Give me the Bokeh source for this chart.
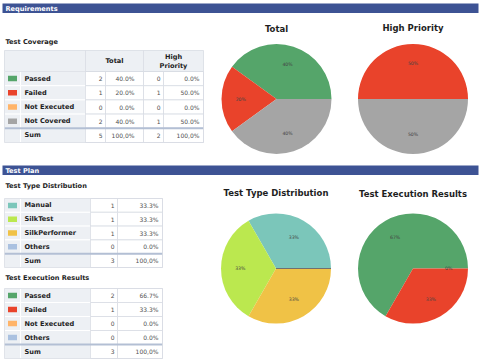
import numpy as np
from bokeh.plotting import figure
from bokeh.models import Range1d, ColumnDataSource
from bokeh.core.properties import value
from bokeh.embed import file_html
from bokeh.resources import INLINE

# ---------------- data ----------------
SECTION_TITLES = ["Requirements", "Test Plan"]
TABLE_TITLES = ["Test Coverage", "Test Type Distribution", "Test Execution Results"]
PIE_TITLES = ["Total", "High Priority", "Test Type Distribution", "Test Execution Results"]
HEADER_LABELS = ["Total", "High\nPriority"]
SUM_LABEL = "Sum"
SUM_PCT_LABEL = "100,0%"

COVERAGE_LABELS = ["Passed", "Failed", "Not Executed", "Not Covered"]
COVERAGE_COLORS = ["#55A56A", "#E9432B", "#FFB469", "#A5A5A5"]
COVERAGE_TOTAL = [2, 1, 0, 2]
COVERAGE_HIGH = [0, 1, 0, 1]

TYPE_LABELS = ["Manual", "SilkTest", "SilkPerformer", "Others"]
TYPE_COLORS = ["#7BC6BA", "#BBE84F", "#F0C246", "#AAC1E0"]
TYPE_VALUES = [1, 1, 1, 0]

EXEC_LABELS = ["Passed", "Failed", "Not Executed", "Others"]
EXEC_COLORS = ["#55A56A", "#E9432B", "#FFB469", "#AAC1E0"]
EXEC_VALUES = [2, 1, 0, 0]
EXEC_PIE_SLICES = 3  # Passed, Failed, Not Executed shown in the pie

# ---------------- styling ----------------
FONT = value("DejaVu Sans")
BAR_BLUE = "#3D5394"
CELL_GREY = "#EDF0F4"
GRID = "#D8DCE3"
TXT = "#1E1E1E"
NUM = "#505050"
W, H = 480, 362


def Y(v):
    return H - v


p = figure(width=W, height=H, x_range=Range1d(0, W), y_range=Range1d(0, H),
           output_backend="svg", toolbar_location=None, min_border=0,
           x_axis_location=None, y_axis_location=None)
p.grid.visible = False
p.outline_line_color = None
p.background_fill_color = "white"


def txt(xs, ys, texts, size, bold=False, color=TXT, align="left", baseline="middle"):
    src = ColumnDataSource(dict(x=list(xs), y=[Y(v) for v in ys], t=list(texts)))
    p.text(x="x", y="y", text="t", source=src, text_font=FONT, text_font_size=size,
           text_font_style="bold" if bold else "normal", text_color=color,
           text_align=align, text_baseline=baseline)


# section bars
bars_top = [3, 165]
p.quad(left=[2, 2], right=[478, 478], top=[Y(t) for t in bars_top],
       bottom=[Y(t + 9.5) for t in bars_top], fill_color=BAR_BLUE, line_color=None)
txt([5, 5], [t + 5 for t in bars_top], SECTION_TITLES, "6.6px", bold=True, color="white")

# table titles
txt([5, 5, 5], [41, 185, 277], TABLE_TITLES, "6.6px", bold=True)


def draw_table(edges, top, rh, labels, colors, groups, pct_pads):
    n = len(labels)
    rows = n + 1
    lq = dict(l=[], r=[], t=[], b=[])
    for i in range(rows):
        for a, b in [(edges[0], edges[1]), (edges[1], edges[2])]:
            lq["l"].append(a); lq["r"].append(b)
            lq["t"].append(Y(top + i * rh)); lq["b"].append(Y(top + (i + 1) * rh))
    p.quad(left="l", right="r", top="t", bottom="b", source=ColumnDataSource(lq),
           fill_color=CELL_GREY, line_color="white", line_width=1)
    nq = dict(l=[], r=[], t=[], b=[])
    for i in range(rows):
        for j in range(2, len(edges) - 1):
            nq["l"].append(edges[j]); nq["r"].append(edges[j + 1])
            nq["t"].append(Y(top + i * rh)); nq["b"].append(Y(top + (i + 1) * rh))
    p.quad(left="l", right="r", top="t", bottom="b", source=ColumnDataSource(nq),
           fill_color="white", line_color=GRID, line_width=0.8)
    cy = [top + (i + 0.5) * rh for i in range(n)]
    sx = (edges[0] + edges[1]) / 2
    p.rect(x=[sx] * n, y=[Y(c) for c in cy], width=9, height=5.5,
           fill_color=colors, line_color=None)
    txt([edges[1] + 4] * (n + 1), cy + [top + (n + 0.5) * rh], labels + [SUM_LABEL],
        "6.6px", bold=True)
    for g, vals in enumerate(groups):
        tot = sum(vals)
        ce = edges[3 + 2 * g]
        pe = edges[4 + 2 * g]
        counts = [str(v) for v in vals] + [str(tot)]
        pcts = ["%.1f%%" % (100.0 * v / tot) for v in vals] + [SUM_PCT_LABEL]
        ys = cy + [top + (n + 0.5) * rh]
        txt([ce - 3] * (n + 1), ys, counts, "6px", color=NUM, align="right")
        txt([pe - pct_pads[g]] * (n + 1), ys, pcts, "6px", color=NUM, align="right")
    p.segment(x0=[edges[0]], x1=[edges[-1]], y0=[Y(top + n * rh)], y1=[Y(top + n * rh)],
              line_color="#B3BFD4", line_width=2)
    p.quad(left=[edges[0]], right=[edges[-1]], top=[Y(top)], bottom=[Y(top + rows * rh)],
           fill_color=None, line_color=GRID, line_width=0.8)


# ---- table 1 (coverage) with header ----
E1 = [4, 20, 85, 105, 143, 163, 203]
HTOP, HBOT = 50, 71
p.quad(left=[E1[0]], right=[E1[-1]], top=[Y(HTOP)], bottom=[Y(HBOT)],
       fill_color=CELL_GREY, line_color=GRID, line_width=0.8)
p.segment(x0=[E1[2], E1[4]], x1=[E1[2], E1[4]], y0=[Y(HTOP)] * 2, y1=[Y(HBOT)] * 2,
          line_color=GRID, line_width=0.8)
txt([(E1[2] + E1[4]) / 2], [(HTOP + HBOT) / 2], [HEADER_LABELS[0]], "6.6px", bold=True,
    align="center")
hp = HEADER_LABELS[1].split("\n")
txt([(E1[4] + E1[6]) / 2] * 2, [56.5, 65], hp, "6.6px", bold=True, align="center")
draw_table(E1, HBOT, 14.2, COVERAGE_LABELS, COVERAGE_COLORS,
           [COVERAGE_TOTAL, COVERAGE_HIGH], [9, 4])

# ---- table 2 (type distribution) ----
E2 = [4, 20, 90, 117, 162]
draw_table(E2, 198, 13.8, TYPE_LABELS, TYPE_COLORS, [TYPE_VALUES], [4])

# ---- table 3 (execution results) ----
draw_table(E2, 288, 14.0, EXEC_LABELS, EXEC_COLORS, [EXEC_VALUES], [4])


# ---------------- pies ----------------
def draw_pie(cx, cy, r, vals, colors, title, title_y, label_zero=False, zero_line=False):
    vals = np.array(vals, dtype=float)
    tot = vals.sum()
    cum = np.concatenate([[0.0], np.cumsum(vals)]) / tot * 2 * np.pi
    keep = vals > 0
    src = ColumnDataSource(dict(s=cum[:-1][keep], e=cum[1:][keep],
                                c=[c for c, k in zip(colors, keep) if k]))
    p.wedge(x=cx, y=Y(cy), radius=r, start_angle="s", end_angle="e", fill_color="c",
            line_color=None, source=src)
    if zero_line:
        for i in np.where(~keep)[0]:
            a = cum[i]
            p.segment(x0=[cx], y0=[Y(cy)], x1=[cx + r * np.cos(a)], y1=[Y(cy) + r * np.sin(a)],
                      line_color="#707070", line_width=1)
    lx, ly, lt = [], [], []
    for i, v in enumerate(vals):
        if v > 0 or label_zero:
            mid = (cum[i] + cum[i + 1]) / 2
            lx.append(cx + 0.65 * r * np.cos(mid))
            ly.append(cy - 0.65 * r * np.sin(mid))
            lt.append("%d%%" % round(100 * v / tot))
    txt(lx, ly, lt, "4.6px", color="#444444", align="center")
    txt([cx], [title_y], [title], "8.5px", bold=True, align="center")


R = 55
draw_pie(276, 98.5, R, COVERAGE_TOTAL, COVERAGE_COLORS, PIE_TITLES[0], 28)
draw_pie(412.5, 98.5, R, COVERAGE_HIGH, COVERAGE_COLORS, PIE_TITLES[1], 27.5)
draw_pie(275.5, 268, R, TYPE_VALUES, TYPE_COLORS, PIE_TITLES[2], 192, zero_line=True)
draw_pie(412.5, 268, R, EXEC_VALUES[:EXEC_PIE_SLICES], EXEC_COLORS[:EXEC_PIE_SLICES],
         PIE_TITLES[3], 193, label_zero=True)

open("out.html", "w").write(file_html(p, INLINE))
